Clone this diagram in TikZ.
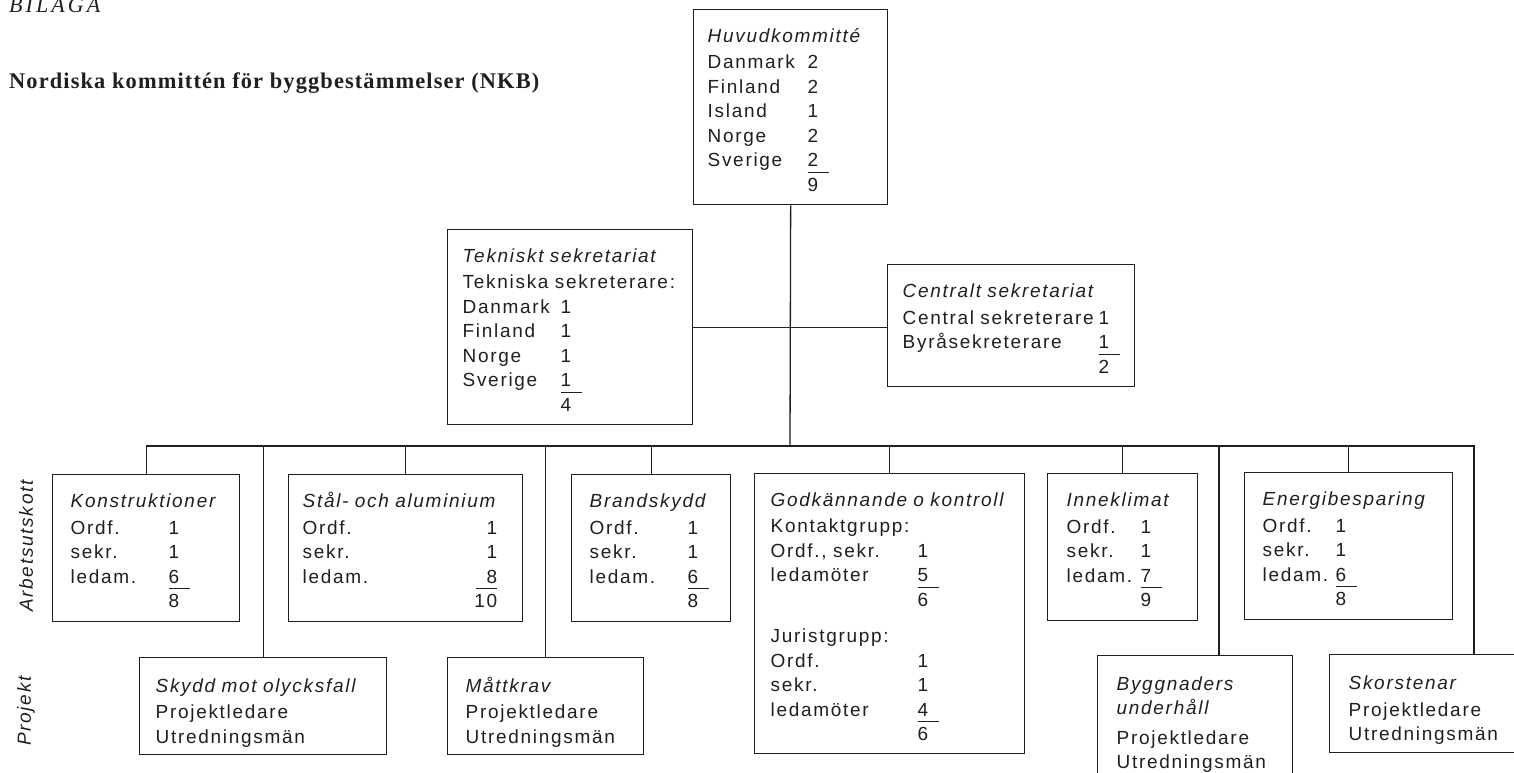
\documentclass[tikz,border=0pt]{standalone}
\usepackage{fontspec}
\setmainfont[LetterSpace=9]{Liberation Sans}
\newfontfamily\rubrikfont[LetterSpace=5]{Liberation Serif}
\newfontfamily\bilagafont[LetterSpace=14]{Liberation Serif}
\usetikzlibrary{positioning}
\definecolor{tusch}{gray}{0.12}
\newcommand{\summa}[1]{\rlap{\rule[-6pt]{21pt}{1.2pt}}#1}
\newcommand{\rubrik}[1]{\rule{0pt}{27pt}\textit{#1}}

\begin{document}
\begin{tikzpicture}[x=1pt,y=-1pt,
  ruta/.style={draw=tusch, line width=1.3pt, anchor=north west, align=left, inner ysep=0pt},
  every node/.style={text=tusch, font=\fontsize{19}{24.5}\selectfont}]
  \useasboundingbox (0,0) rectangle (1514,772);

  %rubriker
  \node[anchor=base west, inner sep=0pt, font=\bilagafont\itshape\fontsize{22}{26}\selectfont] (bilaga) at (9,12) {BILAGA};
  \node[anchor=base west, inner sep=0pt, font=\rubrikfont\bfseries\fontsize{22.4}{26}\selectfont] (nkb) at (9,88) {Nordiska kommittén för byggbestämmelser (NKB)};

  %huvudkommitte
  \node[ruta, inner xsep=14pt, text width=166pt, minimum height=195pt] (huvud) at (693,9) {%
    \begin{tabular}{@{}p{100pt}@{}l@{}}
      \multicolumn{2}{@{}l@{}}{\rubrik{Huvudkommitté}}\\[2pt]
      Danmark & 2\\ Finland & 2\\ Island & 1\\ Norge & 2\\ Sverige & \summa{2}\\ & 9
    \end{tabular}};

  %sekretariat
  \node[ruta, inner xsep=15pt, text width=215pt, minimum height=195pt] (tekn) at (447,229) {%
    \begin{tabular}{@{}p{98pt}@{}l@{}}
      \multicolumn{2}{@{}l@{}}{\rubrik{Tekniskt sekretariat}}\\[2pt]
      \multicolumn{2}{@{}l@{}}{Tekniska sekreterare:}\\
      Danmark & 1\\ Finland & 1\\ Norge & 1\\ Sverige & \summa{1}\\ & 4
    \end{tabular}};
  \node[ruta, inner xsep=15pt, text width=217pt, minimum height=122pt] (central) at (887,264) {%
    \begin{tabular}{@{}l@{\hspace{5pt}}l@{}}
      \multicolumn{2}{@{}l@{}}{\rubrik{Centralt sekretariat}}\\[2pt]
      Central sekreterare & 1\\ Byråsekreterare & \summa{1}\\ & 2
    \end{tabular}};

  %arbetsutskott
  \node[ruta, inner xsep=18pt, text width=151pt, minimum height=147pt] (konst) at (52,474) {%
    \begin{tabular}{@{}p{98pt}@{}l@{}}
      \multicolumn{2}{@{}l@{}}{\rubrik{Konstruktioner}}\\[2pt]
      Ordf. & 1\\ sekr. & 1\\ ledam. & \summa{6}\\ & 8
    \end{tabular}};
  \node[ruta, inner xsep=14pt, text width=206pt, minimum height=147pt] (stal) at (288,474) {%
    \begin{tabular}{@{}p{100pt}@{}r@{}}
      \multicolumn{2}{@{}l@{}}{\rubrik{Stål- och aluminium}}\\[2pt]
      Ordf. & 1\\ sekr. & 1\\ ledam. & \summa{\phantom{1}8}\\ & 10
    \end{tabular}};
  \node[ruta, inner xsep=18pt, text width=123pt, minimum height=147pt] (brand) at (571,474) {%
    \begin{tabular}{@{}p{98pt}@{}l@{}}
      \multicolumn{2}{@{}l@{}}{\rubrik{Brandskydd}}\\[2pt]
      Ordf. & 1\\ sekr. & 1\\ ledam. & \summa{6}\\ & 8
    \end{tabular}};
  \node[ruta, inner xsep=16pt, text width=238pt, minimum height=280pt] (godk) at (754,473) {%
    \begin{tabular}{@{}p{147pt}@{}l@{}}
      \multicolumn{2}{@{}l@{}}{\rubrik{Godkännande o kontroll}}\\[2pt]
      \multicolumn{2}{@{}l@{}}{Kontaktgrupp:}\\
      Ordf., sekr. & 1\\ ledamöter & \summa{5}\\ & 6\\[12pt]
      \multicolumn{2}{@{}l@{}}{Juristgrupp:}\\
      Ordf. & 1\\ sekr. & 1\\ ledamöter & \summa{4}\\ & 6
    \end{tabular}};
  \node[ruta, inner xsep=19pt, text width=112pt, minimum height=147pt] (inne) at (1047,473) {%
    \begin{tabular}{@{}p{74pt}@{}l@{}}
      \multicolumn{2}{@{}l@{}}{\rubrik{Inneklimat}}\\[2pt]
      Ordf. & 1\\ sekr. & 1\\ ledam. & \summa{7}\\ & 9
    \end{tabular}};
  \node[ruta, inner xsep=18pt, text width=172pt, minimum height=147pt] (energi) at (1244,472) {%
    \begin{tabular}{@{}p{73pt}@{}l@{}}
      \multicolumn{2}{@{}l@{}}{\rubrik{Energibesparing}}\\[2pt]
      Ordf. & 1\\ sekr. & 1\\ ledam. & \summa{6}\\ & 8
    \end{tabular}};

  %projekt
  \node[ruta, inner xsep=16pt, text width=215pt, minimum height=97pt] (skydd) at (139,657) {%
    \rubrik{Skydd mot olycksfall}\\[2pt] Projektledare\\ Utredningsmän};
  \node[ruta, inner xsep=18pt, text width=160pt, minimum height=97pt] (matt) at (447,657) {%
    \rubrik{Måttkrav}\\[2pt] Projektledare\\ Utredningsmän};
  \node[ruta, inner xsep=19pt, text width=157pt, minimum height=125pt] (bygg) at (1097,655) {%
    \rubrik{Byggnaders}\\ \textit{underhåll}\\[5pt] Projektledare\\ Utredningsmän};
  \node[ruta, inner xsep=19pt, text width=167pt, minimum height=98pt] (skorsten) at (1329,654) {%
    \rubrik{Skorstenar}\\[2pt] Projektledare\\ Utredningsmän};

  %sidtexter
  \node[rotate=90, font=\itshape\fontsize{19}{24.5}\selectfont] (arbu) at (26,546) {Arbetsutskott};
  \node[rotate=90, font=\itshape\fontsize{19}{24.5}\selectfont] (proj) at (26,711) {Projekt};

  %linjer
  \begin{scope}[draw=tusch, line width=1.3pt]
  \coordinate (stam) at (790,446);
  \draw (huvud.south) -- (stam);
  \draw (tekn.east) -- (tekn.east -| central.west);
  \draw (konst.north) |- (stam);
  \draw (skydd.north) |- (stam);
  \draw (stal.north) |- (stam);
  \draw (matt.north) |- (stam);
  \draw (brand.north) |- (stam);
  \draw (godk.north) |- (stam);
  \draw (inne.north) |- (stam);
  \draw ([xshift=122pt]bygg.north west) |- (stam);
  \draw (energi.north) |- (stam);
  \draw ([xshift=145pt]skorsten.north west) |- (stam);
  \end{scope}
\end{tikzpicture}
\end{document}
